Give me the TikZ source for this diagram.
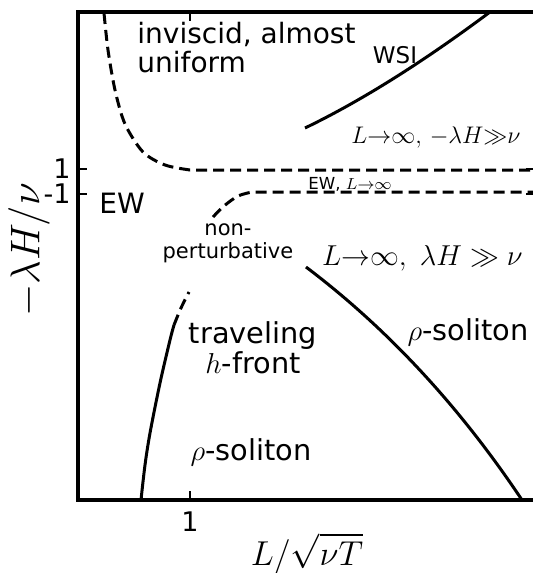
\documentclass[tikz,border=0pt]{standalone}
\usepackage{amsmath}
\usepackage[no-math]{fontspec}
\setmainfont{DejaVu Sans}
\usepackage{tikz}
\usetikzlibrary{positioning}
\tikzset{
  spine/.style={line width=2.4pt, line cap=rect},
  tickmark/.style={line width=1.2pt},
  border/.style={line width=1.5pt},
  crossover/.style={line width=1.5pt, dash pattern=on 5.5pt off 3pt},
  region/.style={font=\fontsize{14}{17}\selectfont, inner sep=0pt},
  limitlabel/.style={font=\fontsize{13.4}{15}\selectfont, inner sep=0pt, anchor=base east},
  smallregion/.style={font=\fontsize{10.5}{11.5}\selectfont, inner sep=0pt, align=center},
  ticklabel/.style={font=\fontsize{13.5}{15}\selectfont, inner sep=0pt},
  axislabel/.style={font=\fontsize{18.5}{20}\selectfont, inner sep=0pt}
}

\begin{document}
\begin{tikzpicture}[x=0.5pt, y=-0.5pt]
  \useasboundingbox (0,0) rectangle (533,573);

  % Axes
  \draw[spine] (533,12) -- (78,12) -- (78,500) -- (533,500);
  \draw[tickmark] (190,500) -- (190,491);
  \draw[tickmark] (190,12) -- (190,21);
  \draw[tickmark] (78,169) -- (87,169);
  \draw[tickmark] (78,194) -- (87,194);
  \draw[tickmark] (533,169) -- (526,169);
  \draw[tickmark] (533,194) -- (526,194);
  \node[ticklabel, anchor=north] (xone) at (190,511) {1};
  \node[ticklabel, anchor=east] (yone) at (71,169) {1};
  \node[ticklabel, anchor=east] (ymone) at (71,194) {-1};
  \node[axislabel, anchor=base] (xlab) at (307,565) {$L/\sqrt{\nu T}$};
  \node[axislabel, font=\fontsize{19.5}{21}\selectfont, rotate=90] (ylab) at (29,250) {$-\lambda H/\nu$};

  % Crossover lines
  \draw[crossover] plot[smooth] coordinates {(104,13) (108,50) (115,90) (125,124) (143,152) (165,165) (190,170)} -- (533,170);
  \draw[crossover] plot[smooth] coordinates {(213,217) (224,206) (238,196) (252,192)} -- (533,192);
  \draw[crossover] plot[smooth] coordinates {(174,325) (181,308) (189,292)};

  % Phase boundaries
  \draw[border] (305,128) .. controls (361,101) and (423,62) .. (490,12);
  \draw[border] (306,267) .. controls (388,329) and (460,407) .. (522,500);
  \draw[border] plot[smooth] coordinates {(141,500) (145,465) (150,433) (160,383) (170,340) (174,325)};

  % Regions
  \node[region, font=\fontsize{14}{14.5}\selectfont, align=left, anchor=base west] (invisc) at (137,72) {inviscid, almost\\uniform};
  \node[region, font=\fontsize{11.5}{13}\selectfont, anchor=base] (wsi) at (395,63) {WSI};
  \node[limitlabel, font=\fontsize{13}{15}\selectfont] (kpzup) at (521,143) {$L{\to}\infty,\,{-}\lambda H{\gg}\nu$};
  \node[region, anchor=base west] (ew) at (99,213) {EW};
  \node[smallregion, font=\fontsize{8.3}{9}\selectfont] (ewinf) at (350,184) {EW, $L{\to}\infty$};
  \node[smallregion, anchor=base] (nonpert) at (228,258) {non-\\perturbative};
  \node[limitlabel] (kpzdown) at (523,265) {$L{\to}\infty,\ \lambda H\gg\nu$};
  \node[region, font=\fontsize{14.4}{15}\selectfont, align=center, anchor=base] (front) at (253,373) {traveling\\$h$-front};
  \node[region, font=\fontsize{14.4}{17}\selectfont, anchor=base] (solright) at (468,340) {$\rho$-soliton};
  \node[region, font=\fontsize{14.4}{17}\selectfont, anchor=base] (solleft) at (251,460) {$\rho$-soliton};
\end{tikzpicture}
\end{document}
